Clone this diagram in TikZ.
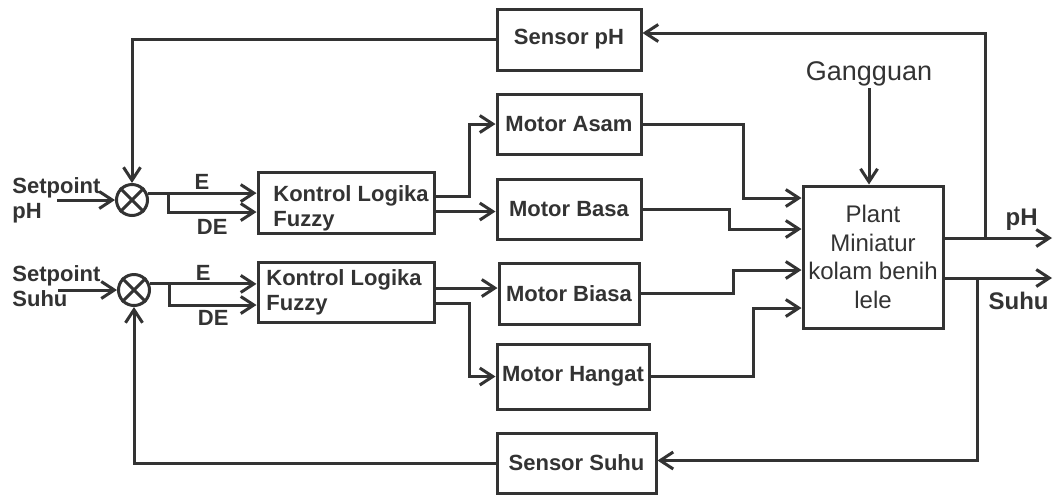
\documentclass[tikz,border=0pt]{standalone}
\usepackage{fontspec}
\setmainfont{Liberation Sans}
\usepackage{xcolor}
\usepackage{tikz}
\usetikzlibrary{positioning,arrows.meta,calc}
\definecolor{linegray}{RGB}{51,51,51}
\newcommand{\blockfont}{\fontsize{11}{12.5}\selectfont\bfseries}
\newcommand{\outfont}{\fontsize{12}{14}\selectfont\bfseries}
\newcommand{\plantfont}{\fontsize{12}{14.25}\selectfont}
\newcommand{\gangfont}{\fontsize{13.5}{16}\selectfont}

\begin{document}
\begin{tikzpicture}[
    x=0.5pt, y=-0.5pt,
    >={Straight Barb[length=6.5pt,width=8.5pt]},
    block/.style={
        rectangle, draw=linegray, line width=1.5pt, font=\blockfont,
        text=linegray, inner sep=1pt
    },
    sumjunction/.style={
        circle, draw=linegray, line width=1.5pt, minimum size=15.5pt, inner sep=0pt
    },
    tag/.style={font=\blockfont, text=linegray, inner sep=1pt},
    link/.style={->, line width=1.5pt, draw=linegray}
]

\fill[white] (0,0) rectangle (1054,494);
\useasboundingbox (0,0) rectangle (1054,494);

\node[block, minimum width=72pt, minimum height=30pt] (asam) at (569,124) {Motor Asam};
\node[block, minimum width=72pt, minimum height=30.5pt, above=10.5pt of asam] (sph) {Sensor pH};
\node[block, minimum width=72pt, minimum height=30pt, below=11pt of asam] (basa) {Motor Basa};
\node[block, minimum width=70pt, minimum height=30.5pt, below=10.5pt of basa] (biasa) {Motor Biasa};
\node[block, minimum width=76pt, minimum height=32.5pt, below=8.5pt of biasa, xshift=2pt] (hangat) {Motor Hangat};
\node[block, minimum width=79.5pt, minimum height=30pt, below=10.5pt of hangat, xshift=1.75pt] (ssuhu) {Sensor Suhu};

\node[block, minimum width=88pt, minimum height=30.5pt] (klf1) at (346,202.5) {};
\node[tag, align=left] (klf1txt) at ([xshift=2.5pt, yshift=-3pt]klf1.center) {Kontrol Logika\\Fuzzy};
\node[block, minimum width=88pt, minimum height=30pt, below=13pt of klf1] (klf2) {};
\node[tag, align=left] (klf2txt) at ([xshift=-1pt]klf2.center) {Kontrol Logika\\Fuzzy};

\node[block, font=\plantfont, minimum width=70pt, minimum height=71pt, align=center, inner sep=0pt] (plant) at (873,257)
    {Plant\\Miniatur\\kolam benih\\lele};
\node[font=\gangfont, text=linegray, inner sep=1pt, anchor=base] (gang) at (869,80) {Gangguan};

\node[sumjunction] (sum1) at (132,200) {};
\node[sumjunction] (sum2) at (134,290) {};
\draw[line width=1.5pt, linegray] (sum1.45) -- (sum1.225) (sum1.135) -- (sum1.315);
\draw[line width=1.5pt, linegray] (sum2.45) -- (sum2.225) (sum2.135) -- (sum2.315);

\node[tag, align=left, anchor=west] (spph) at (10,200) {Setpoint\\pH};
\node[tag, align=left, anchor=west] (spsuhu) at (10,286) {Setpoint\\Suhu};
\node[tag, font=\outfont, anchor=base east] (phlbl) at (1040,225) {pH};
\node[tag, font=\outfont, anchor=base east] (suhulbl) at (1051,309) {Suhu};

\coordinate (inph) at (57,200);
\coordinate (insuhu) at (58,290);
\coordinate (phend) at (1052,238);
\coordinate (suhuend) at (1052,278);
\coordinate (phtap) at (985,238);
\coordinate (suhutap) at (977,278);

\draw[link] (inph) -- (sum1);
\draw[link] (insuhu) -- (sum2);
\draw[link] (sph.west) -| (sum1.north);
\draw[link] (ssuhu.west) -| (sum2.south);

\draw[link] (sum1.24) -- (sum1.24 -| klf1.west) node[midway, above, tag] {E};
\draw[link] ([xshift=10.25pt]sum1.24) |- ([yshift=-4.75pt]klf1.west) node[pos=0.75, below=2pt, tag] {DE};
\draw[link] (sum2.21) -- (sum2.21 -| klf2.west) node[midway, above, tag] {E};
\draw[link] ([xshift=10pt]sum2.21) |- ([yshift=-6.5pt]klf2.west) node[pos=0.75, below=1pt, tag] {DE};

\draw[link] ([yshift=3.25pt]klf1.east) -- ++(17pt,0) |- (asam.west);
\draw[link] ([yshift=-4.5pt]klf1.east) -- ([yshift=-4.5pt]klf1.east -| basa.west);
\draw[link] ([yshift=2pt]klf2.east) -- ([yshift=2pt]klf2.east -| biasa.west);
\draw[link] ([yshift=-5.5pt]klf2.east) -- ++(17pt,0) |- (hangat.west);

\draw[link] (asam.east) -- ++(50.5pt,0) |- ([yshift=29.5pt]plant.west);
\draw[link] (basa.east) -- ++(43.5pt,0) |- ([yshift=14pt]plant.west);
\draw[link] (biasa.east) -- ++(46.5pt,0) |- ([yshift=-6.5pt]plant.west);
\draw[link] (hangat.east) -- ++(51.5pt,0) |- ([yshift=-25.5pt]plant.west);

\draw[link] (gang.south) -- (gang.south |- plant.north);

\draw[link] ([yshift=9.5pt]plant.east) -- (phend);
\draw[link] ([yshift=-10.5pt]plant.east) -- (suhuend);
\draw[link] (phtap) |- ([yshift=3.25pt]sph.east);
\draw[link] (suhutap) |- ([yshift=1.25pt]ssuhu.east);

\end{tikzpicture}
\end{document}
